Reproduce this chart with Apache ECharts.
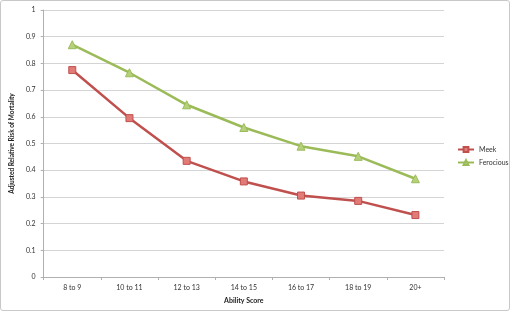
<!DOCTYPE html>
<html><head><meta charset="utf-8">
<script src="https://cdn.jsdelivr.net/npm/echarts@6/dist/echarts.min.js"></script>
<style>
html,body{margin:0;padding:0;background:#fff;}
#wrap{position:absolute;left:0;top:0;width:508px;height:309px;border:1px solid #c8c8c8;border-radius:3px;}
#c{position:absolute;left:0;top:0;width:510px;height:311px;}
</style></head><body>
<div id="wrap"></div>
<div id="c"></div>
<script>
const categories = ['8 to 9','10 to 11','12 to 13','14 to 15','16 to 17','18 to 19','20+'];
const meek = [0.775, 0.595, 0.435, 0.358, 0.305, 0.285, 0.232];
const ferocious = [0.870, 0.765, 0.645, 0.560, 0.490, 0.452, 0.368];
const font = 'Lato, "Open Sans", sans-serif';
const chart = echarts.init(document.getElementById('c'), null, {renderer:'canvas'});
chart.setOption({
  animation:false,
  grid:{left:37,right:66,top:10,bottom:34,containLabel:false},
  legend:{
    orient:'vertical', left:452, top:141, itemGap:6, itemWidth:16, itemHeight:6,
    textStyle:{fontSize:7,color:'#333',fontFamily:font},
    data:['Meek','Ferocious']
  },
  xAxis:{
    type:'category', data:categories, boundaryGap:true,
    name:'Ability Score', nameLocation:'middle', nameGap:20,
    nameTextStyle:{fontSize:7,fontWeight:'bold',color:'#222',fontFamily:font},
    axisLine:{lineStyle:{color:'#b0b0b0',width:1}},
    axisTick:{show:true,length:3,lineStyle:{color:'#b0b0b0'}},
    axisLabel:{fontSize:7,color:'#333',fontFamily:font,margin:7}
  },
  yAxis:{
    type:'value', min:0, max:1, interval:0.1,
    name:'Adjusted Relative Risk of Mortality', nameLocation:'middle', nameGap:20,
    nameTextStyle:{fontSize:6.5,fontWeight:'bold',color:'#222',fontFamily:font},
    axisLine:{show:true,lineStyle:{color:'#b0b0b0',width:1}},
    axisTick:{show:true,length:3,lineStyle:{color:'#b0b0b0'}},
    axisLabel:{fontSize:7,color:'#333',fontFamily:font,margin:8,formatter:v=>String(+v.toFixed(1))},
    splitLine:{lineStyle:{color:'#d4d4d4',width:1}}
  },
  series:[
    {name:'Meek',type:'line',data:meek,symbol:'rect',symbolSize:7,
     lineStyle:{color:'#c0504d',width:2.5},
     itemStyle:{color:'#e07b78',borderColor:'#c0504d',borderWidth:1}},
    {name:'Ferocious',type:'line',data:ferocious,symbol:'triangle',symbolSize:8,
     lineStyle:{color:'#9bbb59',width:2.5},
     itemStyle:{color:'#b5d17a',borderColor:'#9bbb59',borderWidth:1}}
  ]
});
</script>
</body></html>
